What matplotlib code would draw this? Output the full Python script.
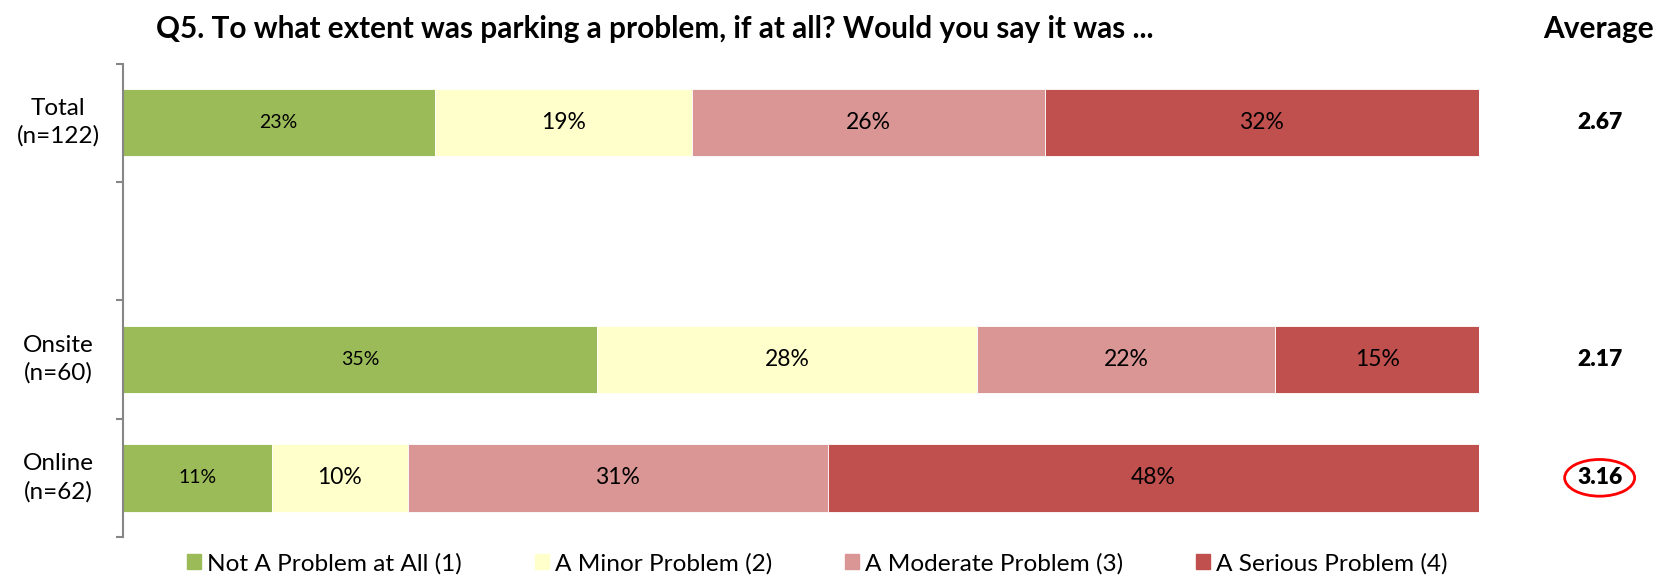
import numpy as np
import matplotlib
matplotlib.use("Agg")
import matplotlib.pyplot as plt
from matplotlib.patches import Ellipse

plt.rcParams['font.family'] = ['Lato', 'DejaVu Sans']

# data
groups = ["Total\n(n=122)", "", "Onsite\n(n=60)", "Online\n(n=62)"]
series = ["Not A Problem at All (1)", "A Minor Problem (2)",
          "A Moderate Problem (3)", "A Serious Problem (4)"]
not_problem = [23, None, 35, 11]
minor = [19, None, 28, 10]
moderate = [26, None, 22, 31]
serious = [32, None, 15, 48]
averages = ["2.67", "", "2.17", "3.16"]
colors = ["#9BBB59", "#FFFFCC", "#D99694", "#C0504D"]

fig = plt.figure(figsize=(16.58, 5.76), dpi=100)
ax = fig.add_axes([0.074, 0.0677, 0.818, 0.822])

ypos = [3, 2, 1, 0]
rows = [i for i in range(len(groups)) if not_problem[i] is not None]
values = [not_problem, minor, moderate, serious]

for i in rows:
    left = 0
    for k, vals in enumerate(values):
        v = vals[i]
        ax.barh(ypos[i], v, left=left, height=0.57, color=colors[k],
                edgecolor='white', linewidth=0.6)
        fs = 14 if k == 0 else 16.5
        ax.text(left + v / 2, ypos[i], "{}%".format(v), ha='center', va='center',
                fontsize=fs, color='black')
        left += v

ax.set_xlim(0, 100)
ax.set_ylim(-0.5, 3.5)

# group labels
for i, g in enumerate(groups):
    if g:
        ax.text(-4.77, ypos[i], g, ha='center', va='center', fontsize=17.5,
                linespacing=1.35, transform=ax.transData)

# averages
for i, a in enumerate(averages):
    if a:
        ax.text(108.9, ypos[i], a, ha='center', va='center', fontsize=16.5,
                fontweight='heavy', clip_on=False)
ax.add_patch(Ellipse((108.9, ypos[3]), 5.16, 0.31, fill=False, edgecolor='#FF0000',
                     linewidth=2, clip_on=False))

# axis styling
for s in ['top', 'right', 'bottom']:
    ax.spines[s].set_visible(False)
ax.spines['left'].set_color('#868686')
ax.spines['left'].set_linewidth(1.5)
ax.set_xticks([])
ax.set_yticks([])
ax.set_yticks([-0.5, 0.5, 1.5, 2.5, 3.5], minor=True)
ax.tick_params(axis='y', which='minor', length=5, width=1.5, color='#868686',
               labelleft=False)

fig.text(0.395, 0.949, "Q5. To what extent was parking a problem, if at all? Would you say it was ...",
         ha='center', va='center', fontsize=21.4, fontweight='bold')
fig.text(0.964, 0.949, "Average", ha='center', va='center', fontsize=21.5, fontweight='bold')

handles = [plt.Rectangle((0, 0), 1, 1, color=c) for c in colors]
fig.legend(handles, series, loc='center', bbox_to_anchor=(0.493, 0.022), ncol=4,
           frameon=False, fontsize=17.6, handlelength=0.55, handleheight=0.55,
           handletextpad=0.25, columnspacing=3.0)

fig.savefig("out.png", dpi=100)
